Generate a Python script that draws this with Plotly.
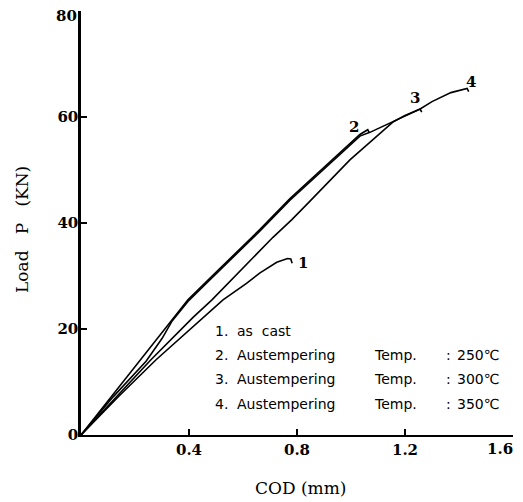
import plotly.graph_objects as go

# ---- data (COD in mm, Load in kN) ----
cod_1 = [0, 0.14, 0.278, 0.428, 0.526, 0.613, 0.663, 0.725, 0.765, 0.777, 0.782]
load_1 = [0, 7.3, 14.2, 21.1, 25.5, 28.6, 30.6, 32.6, 33.3, 33.2, 32.4]

cod_2 = [0, 0.10, 0.20, 0.27, 0.336, 0.396, 0.478, 0.663, 0.774, 0.885, 1.033, 1.062, 1.068]
load_2 = [0, 6.4, 12.9, 17.5, 21.7, 25.5, 29.6, 38.8, 44.6, 49.8, 56.7, 57.6, 57.0]

cod_3 = [0, 0.119, 0.241, 0.30, 0.336, 0.396, 0.478, 0.663, 0.774, 0.885, 1.033, 1.07, 1.157, 1.20, 1.256, 1.262]
load_3 = [0, 7.2, 13.9, 18.2, 21.4, 25.2, 29.3, 38.5, 44.3, 49.5, 56.4, 57.1, 59.2, 60.3, 61.5, 60.9]

cod_4 = [0, 0.13, 0.259, 0.415, 0.485, 0.711, 0.78, 0.84, 0.996, 1.157, 1.20, 1.256, 1.30, 1.37, 1.43, 1.436]
load_4 = [0, 7.2, 14.2, 22.2, 25.5, 37.3, 40.6, 43.7, 51.9, 59.1, 60.3, 61.5, 62.9, 64.6, 65.4, 64.8]

curve_labels = ["1", "2", "3", "4"]
legend_nums = ["1.", "2.", "3.", "4."]
legend_names = ["as\u00a0\u00a0cast", "Austempering", "Austempering", "Austempering"]
legend_temps = ["", "250\u2103", "300\u2103", "350\u2103"]

x_ticks = [0.4, 0.8, 1.2, 1.6]
y_ticks = [0, 20, 40, 60, 80]

# ---- figure ----
OFF = 8  # page body margin in the browser
W, H = 523 - OFF, 502 - OFF
L, R, T, B = 81 - OFF, 10, 11 - OFF, 67
X0, X1, Y0, Y1 = 0, 1.6, 0, 80
pw, ph = W - L - R, H - T - B


def px2data(px, py):
    """page pixel -> data coordinates"""
    fx, fy = px - OFF, py - OFF
    return X0 + (fx - L) / pw * (X1 - X0), Y0 + (H - B - fy) / ph * (Y1 - Y0)


def px2paper(px, py):
    fx, fy = px - OFF, py - OFF
    return (fx - L) / pw, (H - B - fy) / ph


fig = go.Figure()
for cx, cy in [(cod_1, load_1), (cod_2, load_2), (cod_3, load_3), (cod_4, load_4)]:
    fig.add_trace(go.Scatter(x=cx, y=cy, mode="lines",
                             line=dict(color="black", width=1.6),
                             showlegend=False, hoverinfo="skip", cliponaxis=False))

ann = []
serif_b = dict(family="DejaVu Serif", size=15, color="black", weight="bold")
# curve labels
for lab, (px, py) in zip(curve_labels, [(303, 263), (354, 127), (415, 98), (471, 82)]):
    x, y = px2data(px, py)
    ann.append(dict(x=x, y=y, text="<b>%s</b>" % lab, showarrow=False,
                    font=serif_b, xanchor="center", yanchor="middle"))

# tick labels at the very edges of the figure (placed so they stay inside the page)
xp, yp = px2paper(79, 16)
ann.append(dict(xref="paper", yref="paper", x=xp, y=yp, text="<b>%d</b>" % y_ticks[-1],
                showarrow=False, font=serif_b, xanchor="right", yanchor="middle"))
xp, yp = px2paper(515, 449)
ann.append(dict(xref="paper", yref="paper", x=xp, y=yp, text="<b>%.1f</b>" % x_ticks[-1],
                showarrow=False, font=serif_b, xanchor="right", yanchor="middle"))

# legend text block
sans = dict(family="DejaVu Sans", size=14, color="black")
rows_y = [331, 355, 379, 404]
for i, py in enumerate(rows_y):
    for txt, px in [(legend_nums[i], 213), (legend_names[i], 235)]:
        x, y = px2data(px, py)
        ann.append(dict(x=x, y=y, text=txt, showarrow=False, font=sans,
                        xanchor="left", yanchor="middle"))
    if legend_temps[i]:
        for txt, px in [("Temp.", 372), (":", 444), (legend_temps[i], 455)]:
            x, y = px2data(px, py)
            ann.append(dict(x=x, y=y, text=txt, showarrow=False, font=sans,
                            xanchor="left", yanchor="middle"))

# axis titles
serif = dict(family="DejaVu Serif", size=17, color="black")
xp, yp = px2paper(22, 230)
ann.append(dict(xref="paper", yref="paper", x=xp, y=yp,
                text="Load\u00a0\u00a0\u00a0P\u00a0\u00a0\u00a0(KN)", textangle=-90, showarrow=False,
                font=serif, xanchor="center", yanchor="middle"))
xp, yp = px2paper(300, 488)
ann.append(dict(xref="paper", yref="paper", x=xp, y=yp,
                text="COD\u00a0(mm)", showarrow=False,
                font=serif, xanchor="center", yanchor="middle"))

fig.update_layout(
    width=W, height=H,
    margin=dict(l=L, r=R, t=T, b=B, autoexpand=False),
    paper_bgcolor="white", plot_bgcolor="white",
    annotations=ann,
)
fig.update_xaxes(range=[X0, X1], tickvals=x_ticks,
                 ticktext=["%.1f" % v for v in x_ticks[:-1]] + [""],
                 ticks="inside", ticklen=6, tickwidth=1.5, tickcolor="black",
                 showline=True, linecolor="black", linewidth=2, showgrid=False, zeroline=False,
                 tickfont=serif_b, automargin=False)
fig.update_yaxes(range=[Y0, Y1], tickvals=y_ticks,
                 ticktext=[str(v) for v in y_ticks[:-1]] + [""],
                 ticks="inside", ticklen=6, tickwidth=1.5, tickcolor="black",
                 showline=True, linecolor="black", linewidth=2.5, showgrid=False, zeroline=False,
                 tickfont=serif_b, ticklabelstandoff=-3, automargin=False)

fig.write_html("out.html")
